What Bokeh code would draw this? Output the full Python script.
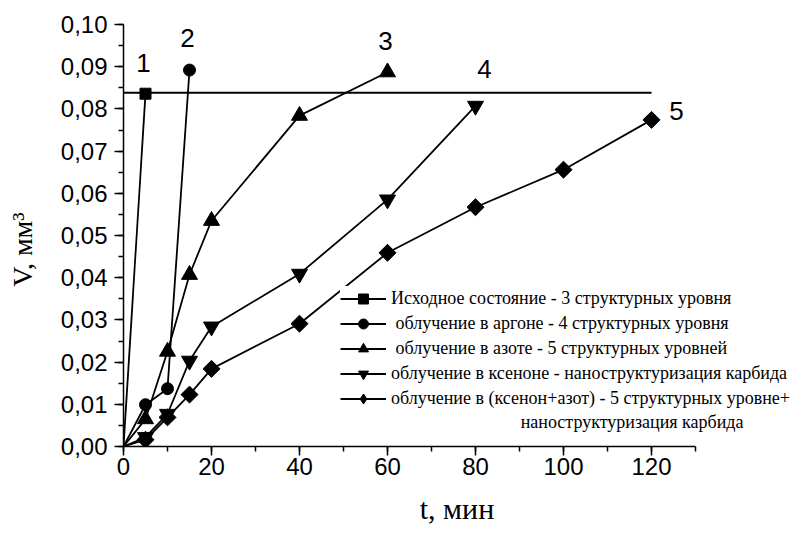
import math
from bokeh.plotting import figure
from bokeh.models import (Range1d, FixedTicker, CustomJSTickFormatter, Legend, LegendItem, Label)
from bokeh.embed import file_html
from bokeh.resources import INLINE

# ---- data ----
t1 = [0, 5]
v1 = [0.0, 0.0836]
t2 = [0, 5, 10, 15]
v2 = [0.0, 0.0099, 0.0137, 0.0892]
t3 = [0, 5, 10, 15, 20, 40, 60]
v3 = [0.0, 0.0065, 0.0225, 0.0407, 0.0535, 0.0784, 0.0887]
t4 = [0, 5, 10, 15, 20, 40, 60, 80]
v4 = [0.0, 0.0022, 0.0077, 0.0203, 0.0284, 0.0409, 0.0585, 0.0807]
t5 = [0, 5, 10, 15, 20, 40, 60, 80, 100, 120]
v5 = [0.0, 0.0016, 0.0069, 0.0123, 0.0184, 0.0291, 0.0459, 0.0567, 0.0656, 0.0774]
hline_t = [0, 120]
hline_v = [0.0838, 0.0838]

curve_numbers = ["1", "2", "3", "4", "5"]
legend_labels = [
    "Исходное состояние - 3 структурных уровня",
    " облучение в аргоне - 4 структурных уровня",
    " облучение в азоте - 5 структурных уровней",
    "облучение в ксеноне - наноструктуризация карбида",
    "облучение в (ксенон+азот) - 5 структурных уровне+",
]
legend_extra_line = "наноструктуризация карбида"
x_ticks = [0, 20, 40, 60, 80, 100, 120]
x_axis_end = 130
y_ticks = [0.0, 0.01, 0.02, 0.03, 0.04, 0.05, 0.06, 0.07, 0.08, 0.09, 0.10]

AXIS_W = 572          # pixel length of the drawn x axis (0..130)
FRAME_W = 667         # frame extends further right so the legend is not clipped
p = figure(frame_width=FRAME_W, frame_height=422, output_backend="svg", toolbar_location=None,
           x_range=Range1d(0, x_axis_end * FRAME_W / AXIS_W), y_range=Range1d(0, 0.10),
           min_border_left=123, min_border_right=5, min_border_top=24, min_border_bottom=87)
p.outline_line_color = None
p.xgrid.visible = False
p.ygrid.visible = False
p.background_fill_color = "white"
p.border_fill_color = "white"

# reference line
p.line(hline_t, hline_v, line_color="black", line_width=2)

series = [
    (t1, v1, "square", 11, 0, "square"),
    (t2, v2, "circle", 12, 0, "circle"),
    (t3, v3, "triangle", 16, 0, "triangle"),
    (t4, v4, "inverted_triangle", 16, 0, "inverted_triangle"),
    (t5, v5, "square", 12, math.pi / 4, "diamond"),
]
NAN = float("nan")
items = []
for (t, v, m, s, ang, lm), lab in zip(series, legend_labels):
    r_line = p.line(t, v, line_color="black", line_width=1.8)
    r_pts = p.scatter(t[1:], v[1:], marker=m, size=s, angle=ang,
                      fill_color="black", line_color="black")
    if lm == m:
        items.append(LegendItem(label=lab, renderers=[r_line, r_pts]))
    else:
        # legend-only marker: a single NaN point, never drawn in the plot itself
        r_leg = p.scatter([NAN], [NAN], marker=lm, size=s, fill_color="black", line_color="black")
        items.append(LegendItem(label=lab, renderers=[r_line, r_leg]))

# curve numbers near last points
offsets = [(-2, 31), (-2, 32), (-2, 31), (9, 37), (25, 9)]
for (t, v, m, s, ang, lm), num, (dx, dy) in zip(series, curve_numbers, offsets):
    p.add_layout(Label(x=t[-1], y=v[-1], text=num, x_offset=dx, y_offset=dy,
                       text_align="center", text_baseline="middle",
                       text_font="Liberation Sans", text_font_size="26px", text_color="black"))

legend = Legend(items=items, location=(217, 35))
legend.glyph_width = 46
legend.glyph_height = 25
legend.label_height = 20
legend.spacing = 0
legend.padding = 20
legend.margin = 0
legend.label_standoff = 5
legend.border_line_color = None
legend.background_fill_color = "white"
legend.background_fill_alpha = 1.0
legend.label_text_font = "Liberation Serif"
legend.label_text_font_size = "18px"
legend.label_text_color = "black"
p.add_layout(legend)

extra = Label(x=620, y=25, x_units="screen", y_units="screen", text=legend_extra_line,
              text_align="right", text_baseline="middle",
              text_font="Liberation Serif", text_font_size="18px", text_color="black")
extra.level = "overlay"
p.add_layout(extra)

for ax in (p.xaxis[0], p.yaxis[0]):
    ax.axis_line_color = "black"
    ax.axis_line_width = 1.5
    ax.major_tick_line_color = "black"
    ax.minor_tick_line_color = "black"
    ax.major_tick_line_width = 1.5
    ax.minor_tick_line_width = 1.5
    ax.major_tick_out = 9
    ax.major_tick_in = 0
    ax.minor_tick_out = 5
    ax.minor_tick_in = 0
    ax.major_label_text_font = "Liberation Sans"
    ax.major_label_text_font_size = "24px"
    ax.major_label_text_color = "black"
    ax.axis_label_text_font = "Liberation Serif"
    ax.axis_label_text_font_style = "normal"
    ax.axis_label_text_color = "black"

p.xaxis[0].bounds = (0, x_axis_end)
p.xaxis[0].ticker = FixedTicker(ticks=x_ticks, minor_ticks=list(range(0, x_axis_end + 1, 10)))
p.yaxis[0].ticker = FixedTicker(ticks=y_ticks, minor_ticks=[i * 0.005 for i in range(21)])
p.yaxis[0].formatter = CustomJSTickFormatter(code="return tick.toFixed(2).replace('.', ',');")
p.xaxis[0].axis_label = "t, мин"
p.yaxis[0].axis_label = "V, мм³\u00a0\u00a0\u00a0\u00a0"
p.xaxis[0].axis_label_text_font_size = "30px"
p.yaxis[0].axis_label_text_font_size = "28px"
p.xaxis[0].major_label_standoff = 2
p.yaxis[0].major_label_standoff = 7
p.xaxis[0].axis_label_standoff = 14
p.yaxis[0].axis_label_standoff = 20

open("out.html", "w").write(file_html(p, INLINE))
